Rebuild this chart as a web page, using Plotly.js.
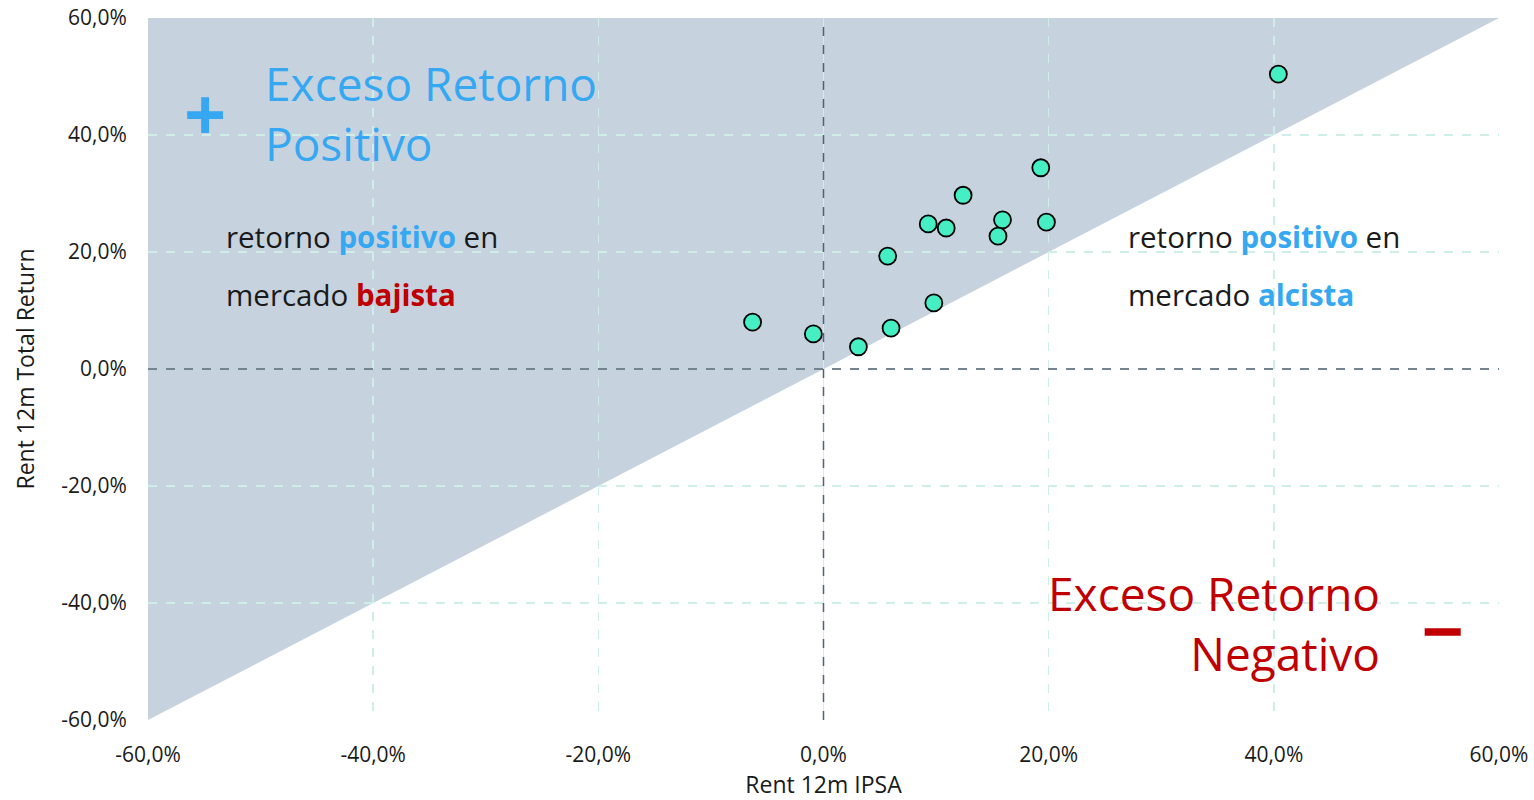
<!DOCTYPE html>
<html>
<head>
<meta charset="utf-8">
<script src="https://cdn.plot.ly/plotly-3.0.1.min.js"></script>
<style>html,body{margin:0;padding:0;background:#fff;}#chart{width:1534px;height:800px;}</style>
</head>
<body>
<div id="chart"></div>
<script>
// Data (percent)
const ipsa = [40.4, 19.3, 12.4, 15.9, 19.8, 9.3, 10.9, 15.5, 5.7, 9.8, -6.3, 6.0, -0.9, 3.1];
const totalReturn = [50.4, 34.4, 29.7, 25.5, 25.1, 24.8, 24.1, 22.7, 19.3, 11.3, 8.0, 7.0, 6.0, 3.8];
const tickVals = [-60, -40, -20, 0, 20, 40, 60];
const tickText = ['-60,0%', '-40,0%', '-20,0%', '0,0%', '20,0%', '40,0%', '60,0%'];

const FONT = '"Open Sans", Lato, sans-serif';
const BLUE = '#36a8f2';
const RED = '#c00000';
const TXT = '#1a1a1a';

const trace = {
  x: ipsa, y: totalReturn, type: 'scatter', mode: 'markers',
  marker: {size: 17, color: '#46efc3', line: {color: '#000', width: 1.8}},
  hoverinfo: 'x+y', showlegend: false
};

const axisCommon = {
  range: [-60, 60], tickvals: tickVals, ticktext: tickText,
  showgrid: true, gridcolor: '#d0eee8', gridwidth: 1.5, griddash: 'dash',
  zeroline: false, showline: false,
  ticks: 'outside', ticklen: 16, tickcolor: 'rgba(0,0,0,0)',
  tickfont: {family: FONT, size: 21, color: TXT}
};

const layout = {
  width: 1534, height: 800,
  margin: {l: 148, r: 35, t: 18, b: 80},
  paper_bgcolor: '#fff', plot_bgcolor: '#fff',
  font: {family: FONT},
  xaxis: Object.assign({}, axisCommon, {
    title: {text: 'Rent 12m IPSA', font: {family: FONT, size: 23, color: TXT}, standoff: 18}
  }),
  yaxis: Object.assign({}, axisCommon, {
    title: {text: 'Rent 12m Total Return', font: {family: FONT, size: 23, color: TXT}, standoff: 20}
  }),
  shapes: [
    {type: 'path', xref: 'x', yref: 'y', path: 'M -60 -60 L 60 60 L -60 60 Z',
     fillcolor: '#c6d3df', line: {width: 0}, layer: 'below'},
    {type: 'line', xref: 'x', yref: 'paper', x0: 0, x1: 0, y0: 0, y1: 1,
     line: {color: '#526273', width: 1.5, dash: 'dash'}, layer: 'above'},
    {type: 'line', xref: 'paper', yref: 'y', x0: 0, x1: 1, y0: 0, y1: 0,
     line: {color: '#526273', width: 1.5, dash: 'dash'}, layer: 'above'},
    {type: 'rect', xref: 'x', yref: 'y', x0: 53.4, x1: 56.6, y0: -45.6, y1: -44.3,
     fillcolor: RED, line: {width: 0}, layer: 'above'}
  ],
  annotations: [
    {x: -54.9, y: 43.9, xref: 'x', yref: 'y', text: '<b>+</b>', showarrow: false,
     font: {family: FONT, size: 74, color: BLUE}, xanchor: 'center', yanchor: 'middle'},
    {x: -49.8, y: 43.7, xref: 'x', yref: 'y', text: 'Exceso Retorno<br>Positivo', showarrow: false,
     align: 'left', font: {family: FONT, size: 46, color: BLUE}, xanchor: 'left', yanchor: 'middle'},
    {x: -53.25, y: 22.6, xref: 'x', yref: 'y', showarrow: false, xanchor: 'left', yanchor: 'middle',
     text: 'retorno <b><span style="color:' + BLUE + '">positivo</span></b> en',
     font: {family: FONT, size: 29.5, color: TXT}},
    {x: -53.25, y: 12.8, xref: 'x', yref: 'y', showarrow: false, xanchor: 'left', yanchor: 'middle',
     text: 'mercado <b><span style="color:' + RED + '">bajista</span></b>',
     font: {family: FONT, size: 29.5, color: TXT}},
    {x: 26.9, y: 22.6, xref: 'x', yref: 'y', showarrow: false, xanchor: 'left', yanchor: 'middle',
     text: 'retorno <b><span style="color:' + BLUE + '">positivo</span></b> en',
     font: {family: FONT, size: 29.5, color: TXT}},
    {x: 26.9, y: 12.8, xref: 'x', yref: 'y', showarrow: false, xanchor: 'left', yanchor: 'middle',
     text: 'mercado <b><span style="color:' + BLUE + '">alcista</span></b>',
     font: {family: FONT, size: 29.5, color: TXT}},
    {x: 49.6, y: -43.5, xref: 'x', yref: 'y', text: 'Exceso Retorno<br>Negativo', showarrow: false,
     align: 'right', font: {family: FONT, size: 46, color: RED}, xanchor: 'right', yanchor: 'middle'}
  ]
};

Plotly.newPlot('chart', [trace], layout, {displayModeBar: false, staticPlot: true});
</script>
</body>
</html>
